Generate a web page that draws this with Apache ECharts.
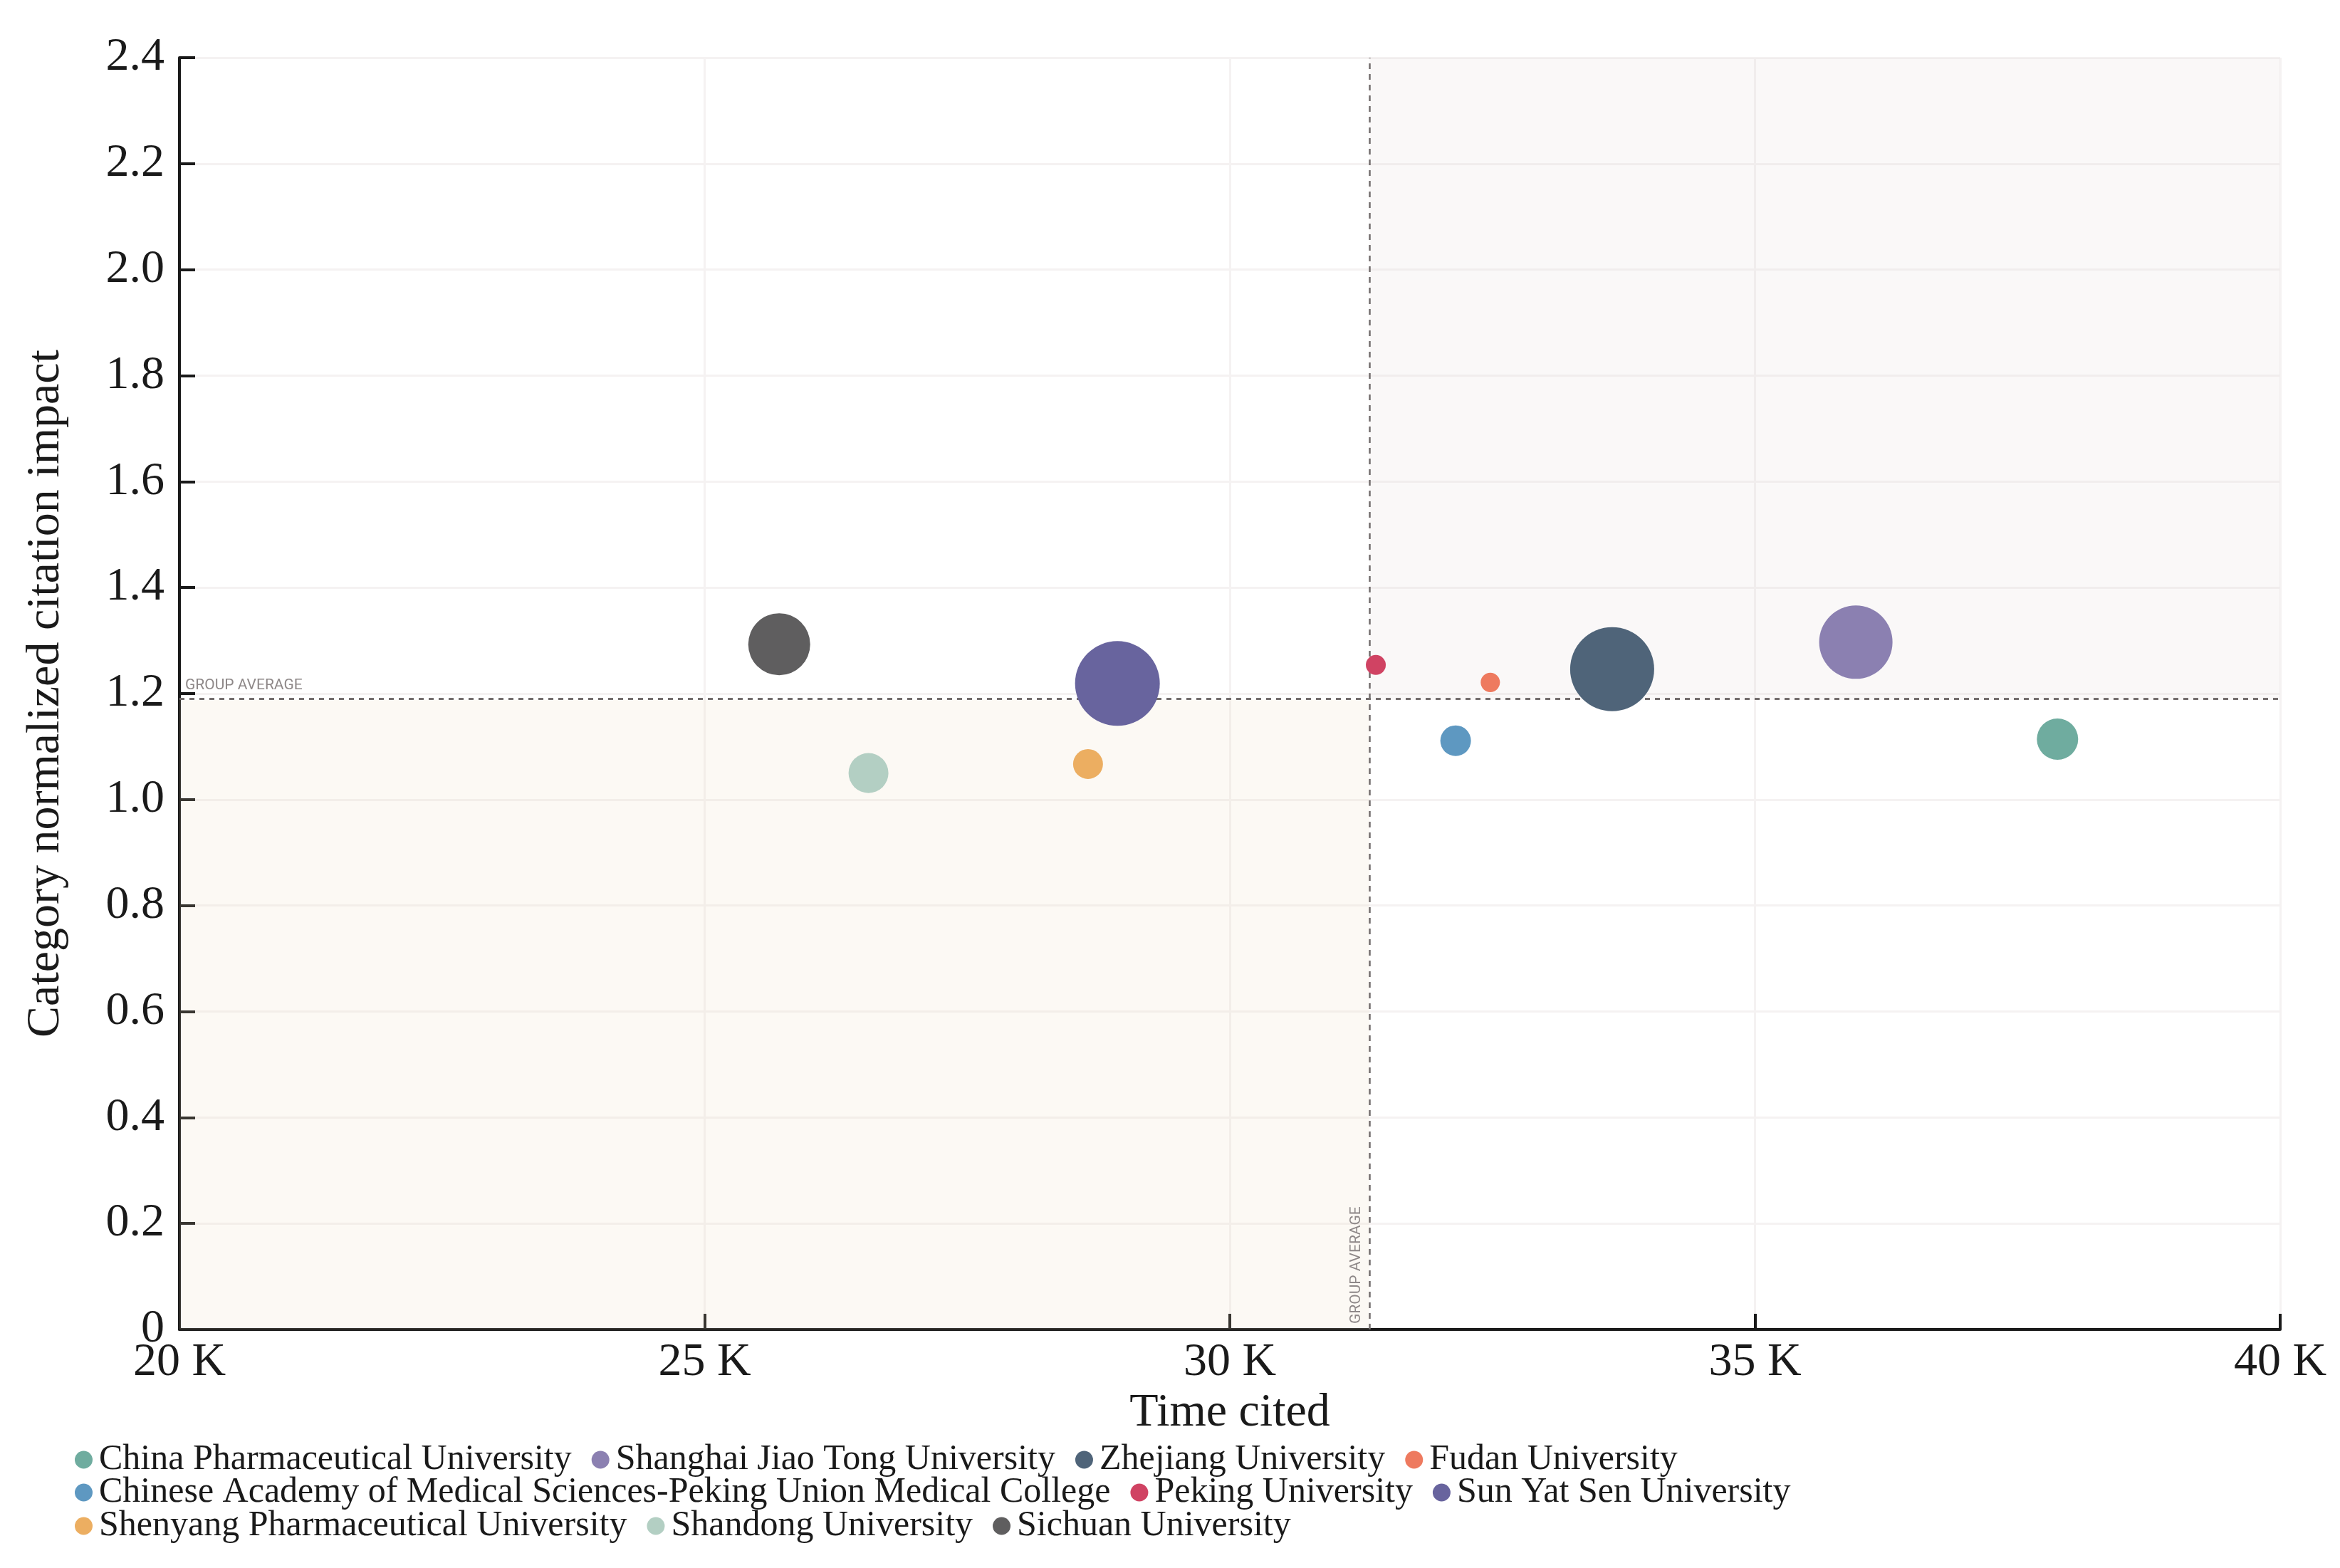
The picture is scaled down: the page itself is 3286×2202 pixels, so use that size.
<!DOCTYPE html>
<html>
<head>
<meta charset="utf-8">
<script src="https://cdn.jsdelivr.net/npm/echarts@6/dist/echarts.min.js"></script>
<style>
  html, body { margin: 0; padding: 0; background: #ffffff; }
  #chart { width: 3286px; height: 2202px; }
</style>
</head>
<body>
<div id="chart"></div>
<script>
// ---- data ----
const universities = [
  'China Pharmaceutical University',
  'Shanghai Jiao Tong University',
  'Zhejiang University',
  'Fudan University',
  'Chinese Academy of Medical Sciences-Peking Union Medical College',
  'Peking University',
  'Sun Yat Sen University',
  'Shenyang Pharmaceutical University',
  'Shandong University',
  'Sichuan University'
];
const timesCited = [37880, 35960, 33640, 32480, 32150, 31390, 28930, 28650, 26560, 25710];
const cnci       = [1.114, 1.297, 1.246, 1.221, 1.111, 1.254, 1.219, 1.067, 1.050, 1.293];
const documents  = [695, 2192, 2877, 151, 382, 162, 2926, 364, 648, 1564];
const groupAvgTimesCited = 31330;
const groupAvgCnci = 1.188;
const xRange = [20000, 40000];
const xInterval = 5000;
const yRange = [0, 2.4];
const yInterval = 0.2;
const legendRows = [
  ['China Pharmaceutical University', 'Shanghai Jiao Tong University', 'Zhejiang University', 'Fudan University'],
  ['Chinese Academy of Medical Sciences-Peking Union Medical College', 'Peking University', 'Sun Yat Sen University'],
  ['Shenyang Pharmaceutical University', 'Shandong University', 'Sichuan University']
];

// ---- styles ----
const palette = ['#6fac9f', '#8b80b1', '#4f6479', '#ee7a5f', '#5e98c1', '#d04363', '#68649e', '#ecae61', '#b3cfc3', '#5f5e5f'];
const serif = 'Liberation Serif, Times New Roman, serif';
const ink = '#1a1a1a';

const chart = echarts.init(document.getElementById('chart'), null, { renderer: 'canvas' });

const bubbleSeries = universities.map((name, i) => ({
  name: name,
  type: 'scatter',
  z: 5,
  data: [[timesCited[i], cnci[i], documents[i]]],
  symbol: 'circle',
  symbolSize: v => Math.sqrt(v[2]) * 2.2,
  itemStyle: { color: palette[i], opacity: 1 },
  emphasis: { disabled: true }
}));

const refLabel = {
  show: true, position: 'insideStartTop', formatter: 'GROUP AVERAGE',
  fontFamily: 'Roboto, sans-serif', fontSize: 21, color: '#8e8888', distance: 8
};

const refSeries = {
  name: '__ref',
  type: 'scatter',
  z: 1,
  data: [],
  silent: true,
  markArea: {
    silent: true,
    data: [
      [{ xAxis: groupAvgTimesCited, yAxis: groupAvgCnci, itemStyle: { color: 'rgba(225,215,215,0.17)' } },
       { xAxis: xRange[1], yAxis: yRange[1] }],
      [{ xAxis: xRange[0], yAxis: yRange[0], itemStyle: { color: 'rgba(235,215,180,0.15)' } },
       { xAxis: groupAvgTimesCited, yAxis: groupAvgCnci }]
    ]
  },
  markLine: {
    silent: true,
    symbol: 'none',
    animation: false,
    data: [
      {
        yAxis: groupAvgCnci,
        lineStyle: { type: [7, 7], width: 3, color: '#736d6d' },
        label: refLabel
      },
      {
        xAxis: groupAvgTimesCited,
        lineStyle: { type: [8, 7], width: 2.5, color: '#736d6d' },
        label: refLabel
      }
    ]
  }
};

const legends = legendRows.map((row, r) => ({
  data: row,
  orient: 'horizontal',
  left: 100,
  top: [2020, 2066, 2113][r],
  width: 3100,
  itemWidth: 25,
  itemHeight: 25,
  itemGap: 28,
  icon: 'circle',
  selectedMode: false,
  textStyle: { fontFamily: serif, fontSize: 50, color: ink, padding: [0, 0, 0, 4] }
}));

chart.setOption({
  backgroundColor: '#ffffff',
  animation: false,
  color: palette,
  grid: { left: 252, right: 84, top: 81, bottom: 335, containLabel: false, outerBoundsMode: 'none' },
  legend: legends,
  xAxis: {
    type: 'value',
    min: xRange[0], max: xRange[1], interval: xInterval,
    name: 'Time cited',
    nameLocation: 'middle',
    nameGap: 74,
    nameTextStyle: { fontFamily: serif, fontSize: 66, color: ink },
    axisLine: { show: true, onZero: false, lineStyle: { color: ink, width: 4 } },
    axisTick: { show: true, inside: true, length: 22, lineStyle: { color: ink, width: 4 } },
    axisLabel: {
      fontFamily: serif, fontSize: 66, color: ink, margin: 14,
      formatter: v => (v / 1000) + ' K'
    },
    splitLine: { show: true, lineStyle: { color: '#f5f2f2', width: 3 } }
  },
  yAxis: {
    type: 'value',
    min: yRange[0], max: yRange[1], interval: yInterval,
    name: 'Category normalized citation impact',
    nameLocation: 'middle',
    nameGap: 154,
    nameTextStyle: { fontFamily: serif, fontSize: 66, color: ink },
    axisLine: { show: true, onZero: false, lineStyle: { color: ink, width: 4 } },
    axisTick: { show: true, inside: true, length: 22, lineStyle: { color: ink, width: 4 } },
    axisLabel: {
      fontFamily: serif, fontSize: 66, color: ink, margin: 21,
      formatter: v => (Math.abs(v) < 1e-9 ? '0' : v.toFixed(1))
    },
    splitLine: { show: true, lineStyle: { color: '#f5f2f2', width: 3 } }
  },
  series: [refSeries].concat(bubbleSeries)
});
</script>
</body>
</html>
